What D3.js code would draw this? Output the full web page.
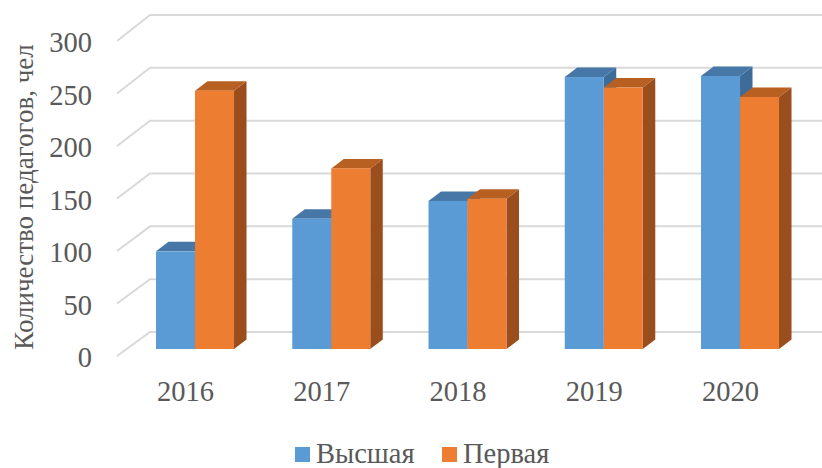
<!DOCTYPE html>
<html><head><meta charset="utf-8">
<script src="https://cdn.jsdelivr.net/npm/d3@7"></script>
<style>body{margin:0;background:#fff}svg{display:block}</style>
</head><body>
<script>
const categories = ["2016","2017","2018","2019","2020"];
const seriesNames = ["Высшая","Первая"];
const vysshaya = [93, 124, 141, 259, 260];
const pervaya = [246, 172, 143, 249, 240];
const yTicks = [0, 50, 100, 150, 200, 250, 300];
const yTitle = "Количество педагогов, чел";

const W = 822, H = 468;
const svg = d3.select("body").append("svg").attr("width", W).attr("height", H);
const font = "'Liberation Serif','Times New Roman',serif";
const textCol = "#595959";

// front-plane scales
const x = d3.scaleBand().domain(categories).range([117.3, 117.3 + 5*136.25]);
const yFront = d3.scaleLinear().domain([0, 300]).range([356, 41]);
const yBack = d3.scaleLinear().domain([0, 300]).range([332, 15]);
const floorX0 = 117, backX0 = 150;
const barOff = {dx: 9.6, dy: -7};     // bar front plane offset from front floor
const barDepth = {dx: 12.5, dy: -9.5};
const barW = 39;

const colors = [
  {front:"#5B9BD5", top:"#4677A6", side:"#3E6C98"},
  {front:"#ED7D31", top:"#B85F22", side:"#9A4D1D"}
];

// gridlines
const g = svg.append("g");
yTicks.forEach(t => {
  g.append("path")
    .attr("d", `M${floorX0},${yFront(t)}L${backX0},${yBack(t)}L${W},${yBack(t)}`)
    .attr("fill","none").attr("stroke","#D9D9D9").attr("stroke-width",2);
});

// y tick labels
svg.append("g").selectAll("text").data(yTicks).join("text")
  .attr("x", 92).attr("y", d => yFront(d) + 11)
  .attr("text-anchor","end").attr("font-family",font).attr("font-size",28.5)
  .attr("fill",textCol).text(d => d);

// bars
const data = [vysshaya, pervaya];
const bars = svg.append("g");
categories.forEach((c, i) => {
  const cx = x(c) + x.bandwidth()/2 + barOff.dx;
  const y0 = yFront(0) + barOff.dy;
  data.forEach((ser, s) => {
    const v = ser[i];
    const xl = cx - barW + s*barW, xr = xl + barW;
    const yt = yFront(v) + barOff.dy;
    const col = colors[s];
    const dx = barDepth.dx, dy = barDepth.dy;
    const bg = bars.append("g");
    bg.append("path").attr("d",
      `M${xr},${yt}L${xr+dx},${yt+dy}L${xr+dx},${y0+dy}L${xr},${y0}Z`).attr("fill", col.side);
    bg.append("path").attr("d",
      `M${xl},${yt}L${xl+dx},${yt+dy}L${xr+dx},${yt+dy}L${xr},${yt}Z`).attr("fill", col.top);
    bg.append("rect").attr("x", xl).attr("y", yt).attr("width", barW).attr("height", y0 - yt)
      .attr("fill", col.front);
  });
});

// x labels
svg.append("g").selectAll("text").data(categories).join("text")
  .attr("x", d => x(d) + x.bandwidth()/2).attr("y", 401)
  .attr("text-anchor","middle").attr("font-family",font).attr("font-size",28.5)
  .attr("fill",textCol).text(d => d);

// y title
svg.append("text").attr("transform","translate(33,197) rotate(-90)")
  .attr("text-anchor","middle").attr("font-family",font).attr("font-size",27)
  .attr("fill",textCol).text(yTitle);

// legend
const leg = svg.append("g");
const legPos = [295, 442];
seriesNames.forEach((n, s) => {
  leg.append("rect").attr("x", legPos[s]).attr("y", 447).attr("width", 15).attr("height", 15)
    .attr("fill", colors[s].front);
  leg.append("text").attr("x", legPos[s] + 21).attr("y", 463)
    .attr("font-family",font).attr("font-size",28.5).attr("fill",textCol).text(n);
});
</script>
</body></html>
